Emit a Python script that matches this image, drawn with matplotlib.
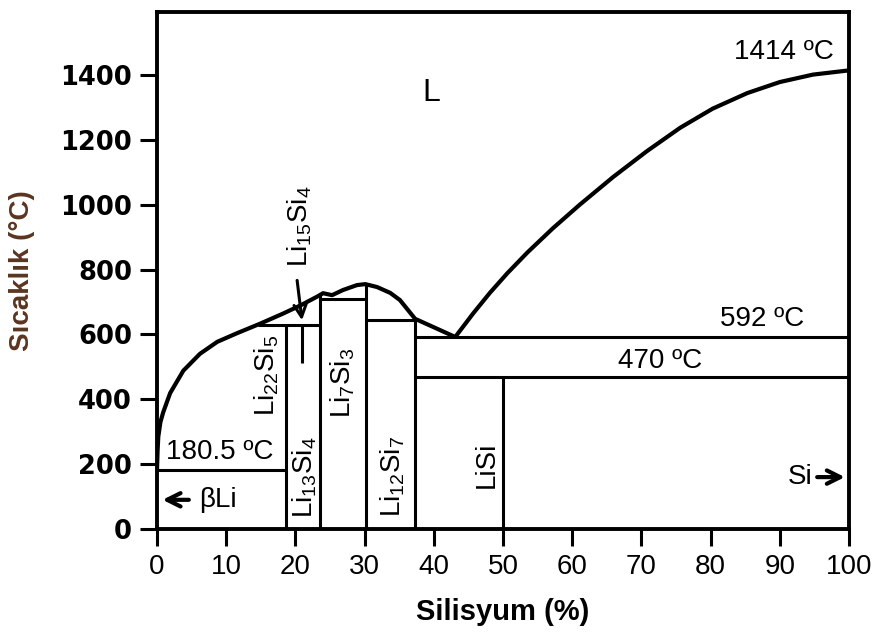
import matplotlib
matplotlib.use('Agg')
import matplotlib.pyplot as plt

# ---- data ----
liq_left_x = [0, 0.08, 0.19, 0.5, 0.9, 1.9, 3.8, 6.2, 8.7, 11.6, 14.9, 18.2, 20.7,
              23.1, 24.0, 25.3, 26.9, 28.9, 30.1, 31.8, 33.7, 35.1, 37.3, 39.9, 43.1]
liq_left_t = [180.5, 240, 285, 330, 360, 419, 488, 540, 577, 604, 633, 664, 689,
              716, 727, 721, 737, 752, 755, 746, 728, 706, 648, 623, 592]
liq_right_x = [43.1, 45.7, 48.1, 50.6, 53.5, 57.2, 61.1, 65.9, 70.8, 75.6, 80.3,
               85.3, 90.0, 94.8, 100]
liq_right_t = [592, 665, 728, 788, 852, 927, 1000, 1085, 1165, 1237, 1296,
               1344, 1378, 1401, 1414]

compound_x = [18.6, 23.6, 30.2, 37.3, 50.0]
compound_top = [629, 722, 753, 645, 470]

iso_t = [180.5, 629, 709, 645, 592, 470]
iso_x0 = [0, 14.6, 23.6, 30.2, 37.3, 37.3]
iso_x1 = [18.6, 23.6, 30.2, 37.3, 100, 100]

li15_x = 21.0
li15_t = [512, 629]

x_ticks = [0, 10, 20, 30, 40, 50, 60, 70, 80, 90, 100]
y_ticks = [0, 200, 400, 600, 800, 1000, 1200, 1400]

phase_labels = [r'Li$_{22}$Si$_{5}$', r'Li$_{13}$Si$_{4}$', r'Li$_{7}$Si$_{3}$',
                r'Li$_{12}$Si$_{7}$', 'LiSi']
phase_label_x = [15.9, 21.4, 26.9, 34.0, 47.7]
phase_label_t = [475, 160, 450, 163, 197]

temp_labels = ['1414 ºC', '592 ºC', '470 ºC', '180.5 ºC']
temp_label_x = [90.6, 87.4, 72.7, 9.0]
temp_label_t = [1471, 648, 518, 237]

# ---- style ----
plt.rcParams['font.family'] = ['Liberation Sans', 'DejaVu Sans']
plt.rcParams['mathtext.fontset'] = 'custom'
plt.rcParams['mathtext.rm'] = 'Liberation Sans'
plt.rcParams['mathtext.it'] = 'Liberation Sans:italic'
plt.rcParams['mathtext.bf'] = 'Liberation Sans:bold'

fig = plt.figure(figsize=(8.79, 6.35), dpi=100)
ax = fig.add_axes([157/879, 106/635, 692/879, 517/635])
ax.set_xlim(0, 100)
ax.set_ylim(0, 1594)

for s in ax.spines.values():
    s.set_linewidth(2.8)

# liquidus
ax.plot(liq_left_x, liq_left_t, color='black', lw=3, solid_capstyle='round',
        solid_joinstyle='round')
ax.plot(liq_right_x, liq_right_t, color='black', lw=3, solid_capstyle='round',
        solid_joinstyle='round')

# compounds
ax.vlines(compound_x, 0, compound_top, color='black', lw=2.2)
ax.hlines(iso_t, iso_x0, iso_x1, color='black', lw=2.2)
ax.vlines([li15_x], li15_t[0], li15_t[1], color='black', lw=2.2)

# texts
for lab, x, t in zip(phase_labels, phase_label_x, phase_label_t):
    ax.text(x, t, lab, rotation=90, ha='center', va='center', fontsize=20)

for lab, x, t in zip(temp_labels, temp_label_x, temp_label_t):
    ax.text(x, t, lab, ha='center', va='center', fontsize=20)

ax.text(39.7, 1344, 'L', ha='center', va='center', fontsize=23)

ax.text(20.7, 935, r'Li$_{15}$Si$_{4}$', rotation=90, ha='center', va='center',
        fontsize=20)
ax.annotate('', xy=(21.0, 635), xytext=(20.2, 775),
            arrowprops=dict(arrowstyle='->', lw=2.2, color='black',
                            mutation_scale=22))

ax.text(8.8, 90, 'βLi', ha='center', va='center', fontsize=20)
ax.annotate('', xy=(0.4, 90), xytext=(5.0, 90),
            arrowprops=dict(arrowstyle='->', lw=3, color='black',
                            mutation_scale=24))

ax.text(92.9, 160, 'Si', ha='center', va='center', fontsize=20)
ax.annotate('', xy=(99.8, 160), xytext=(95.0, 160),
            arrowprops=dict(arrowstyle='->', lw=3, color='black',
                            mutation_scale=24))

# axes
ax.set_xticks(x_ticks)
ax.set_yticks(y_ticks)
ax.set_xticklabels([str(v) for v in x_ticks], fontsize=20)
ax.set_yticklabels([str(v) for v in y_ticks], fontsize=18.5,
                   fontfamily='DejaVu Sans', fontweight='bold')
ax.tick_params(direction='out', length=12, width=2.2, pad=6)

ax.set_xlabel('Silisyum (%)', fontsize=21, fontweight='bold', labelpad=13)
ax.set_ylabel('Sıcaklık (°C)', fontsize=20, fontweight='bold', color='#5a3520',
              labelpad=18)

fig.savefig('out.png', dpi=100)
